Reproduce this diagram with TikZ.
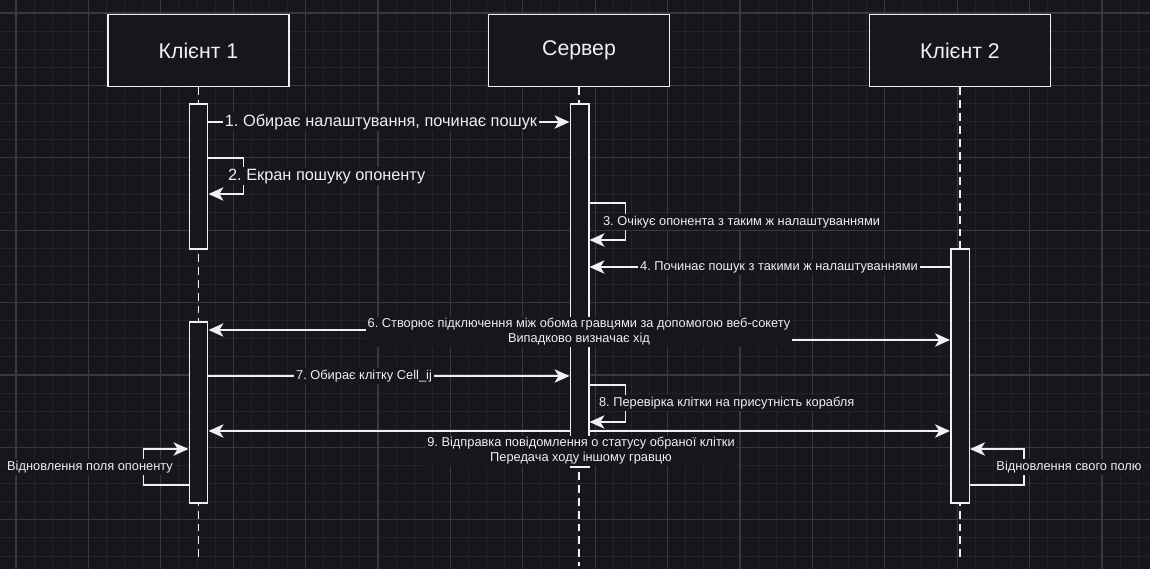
\documentclass[tikz,border=0pt]{standalone}
\usepackage{fontspec}
\setmainfont{Liberation Sans}
\usetikzlibrary{arrows.meta, calc}

\definecolor{bgc}{RGB}{24,21,29}
\definecolor{minorc}{RGB}{37,35,42}
\definecolor{majorc}{RGB}{58,56,63}
\definecolor{ink}{RGB}{240,240,240}

\pgfdeclarelayer{grid}
\pgfdeclarelayer{wires}
\pgfsetlayers{grid,wires,main}
\frenchspacing

\begin{document}
\begin{tikzpicture}[
    x=0.02cm, y=-0.02cm,
    >={Stealth[length=8.5pt, width=7.6pt, inset=2.3pt]},
    head/.style={draw=ink, fill=bgc, line width=1.1pt, minimum width=3.62cm,
                 minimum height=1.44cm, text=ink, font=\fontsize{12.1}{14}\selectfont},
    bar/.style={draw=ink, fill=bgc, line width=0.85pt, minimum width=0.37cm, inner sep=0pt},
    life/.style={ink, line width=0.85pt, dash pattern=on 4.5pt off 2.8pt},
    msg/.style={ink, line width=0.85pt, ->},
    lbl/.style={fill=bgc, text=ink, inner sep=1pt, font=\fontsize{9.3}{11}\selectfont},
    slbl/.style={lbl, align=center, font=\fontsize{7.3}{8.6}\selectfont}
  ]
  \useasboundingbox (0,0) rectangle (1150,569);
  % -- grid --
  \begin{pgfonlayer}{grid}
    \fill[bgc] (0,0) rectangle (1150,569);
    \foreach \k in {0,...,62}{ \draw[minorc, line width=0.5pt] ({16+\k*18.1},0) -- ({16+\k*18.1},569); }
    \foreach \k in {0,...,30}{ \draw[minorc, line width=0.5pt] (0,{13+\k*18.1}) -- (1150,{13+\k*18.1}); }
    \foreach \k in {0,...,15}{ \draw[majorc, line width=0.6pt] ({16+\k*72.4},0) -- ({16+\k*72.4},569); }
    \foreach \k in {0,...,7}{ \draw[majorc, line width=0.6pt] (0,{13+\k*72.4}) -- (1150,{13+\k*72.4}); }
  \end{pgfonlayer}
  % -- lifelines --
  \node[head] (c1) at (198.5,50.5) {Клієнт 1};
  \node[head] (srv) at (579,50.5) {Сервер};
  \node[head] (c2) at (960,50.5) {Клієнт 2};
  \coordinate (c1end) at (198.5,557);
  \coordinate (srvend) at (579,566);
  \coordinate (c2end) at (960,557);
  % -- activations --
  \node[bar, minimum height=2.9cm] (b1a) at (198.5,176.5) {};
  \node[bar, minimum height=3.62cm] (b1b) at (198.5,412.5) {};
  \node[bar, minimum height=7.26cm] (bs) at (579.5,285.5) {};
  \node[bar, minimum height=5.08cm] (b2) at (960,376) {};
  % -- labels --
  \node[lbl] (l1) at (381,122) {1. Обирає налаштування, починає пошук};
  \node[lbl, anchor=west] (l2) at (226,176) {2. Екран пошуку опоненту};
  \node[slbl, anchor=west] (l3) at (601,222) {3. Очікує опонента з таким ж налаштуваннями};
  \node[slbl] (l4) at (779,267) {4. Починає пошук з такими ж налаштуваннями};
  \node[slbl] (l6) at (579,332) {6. Створює підключення між обома гравцями за допомогою веб-сокету\\Випадково визначає хід};
  \node[slbl] (l7) at (364,376) {7. Обирає клітку Cell\_ij};
  \node[slbl, anchor=west] (l8) at (597,403) {8. Перевірка клітки на присутність корабля};
  \node[slbl] (l9) at (581,451) {9. Відправка повідомлення о статусу обраної клітки\\Передача ходу іншому гравцю};
  \node[slbl] (r1) at (90,467) {Відновлення поля опоненту};
  \node[slbl] (r2) at (1069,467) {Відновлення свого полю};
  % -- messages --
  \begin{pgfonlayer}{wires}
    \draw[life] (c1) -- (c1end);
    \draw[life] (srv) -- (srvend);
    \draw[life] (c2) -- (c2end);
    \draw[msg] (b1a.east |- l1) -- (bs.west |- l1);
    \draw[msg] (b1a.east |- 0,158) -- ++(35,0) |- (b1a.east |- 0,194);
    \draw[msg] (bs.east |- 0,203) -- ++(36,0) |- (bs.east |- 0,240);
    \draw[msg] (b2.west |- l4) -- (bs.east |- l4);
    \draw[msg] (l6.west |- 0,330) -- (b1b.east |- 0,330);
    \draw[msg] (l6.east |- 0,340) -- (b2.west |- 0,340);
    \draw[msg] (b1b.east |- l7) -- (bs.west |- l7);
    \draw[msg] (bs.east |- 0,385) -- ++(36,0) |- (bs.east |- 0,422);
    \draw[msg, <->] (b1b.east |- 0,431) -- (b2.west |- 0,431);
    \draw[msg] (b1b.west |- 0,485) -- ++(-45,0) |- (b1b.west |- 0,449);
    \draw[msg] (b2.east |- 0,485) -- ++(54,0) |- (b2.east |- 0,449);
  \end{pgfonlayer}
\end{tikzpicture}
\end{document}
